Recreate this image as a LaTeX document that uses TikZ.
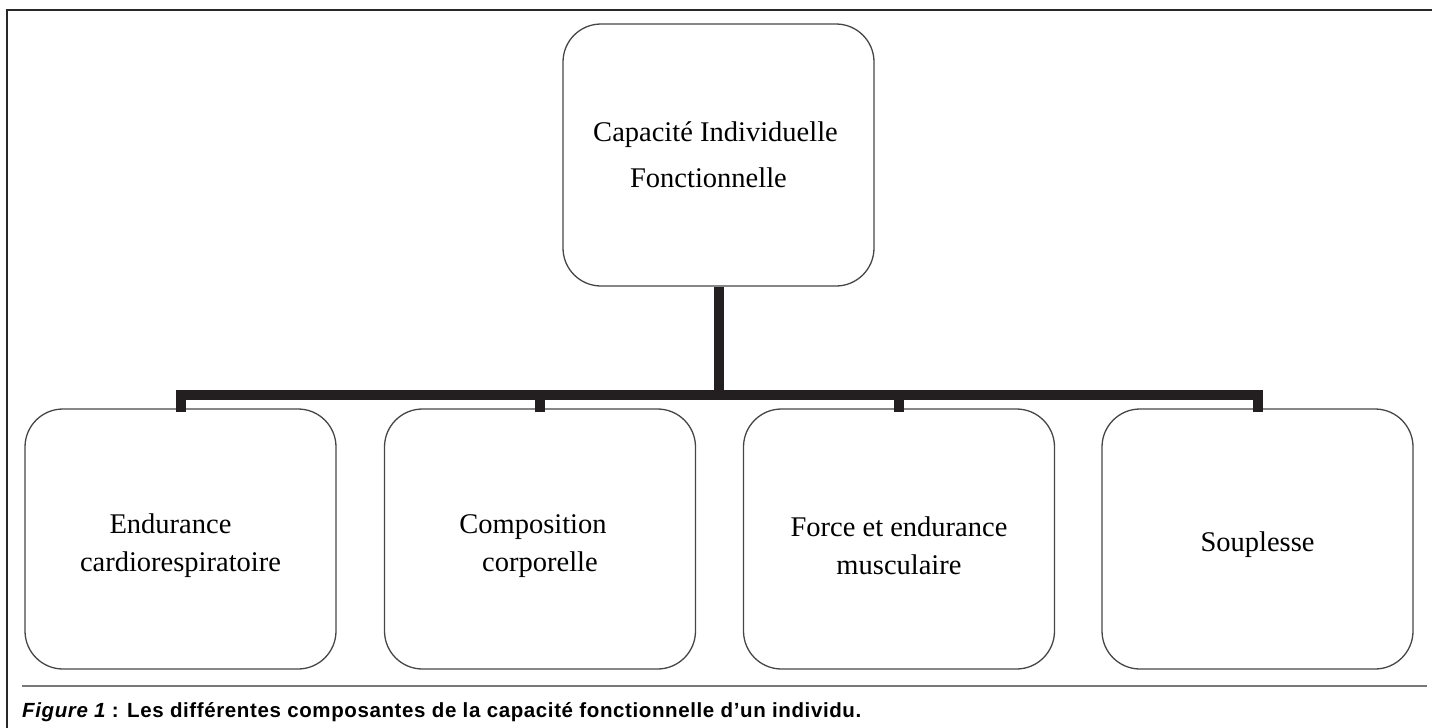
\documentclass[tikz,border=0pt]{standalone}
\usepackage{fontspec}
\setmainfont{Liberation Serif}
\newfontfamily\capfont[LetterSpace=3]{Liberation Sans}
\definecolor{framecol}{RGB}{40,40,40}
\definecolor{boxcol}{RGB}{70,70,70}
\definecolor{conncol}{RGB}{35,31,32}
\definecolor{sepcol}{RGB}{120,120,120}
\tikzset{
  box/.style={draw=boxcol, line width=1.3pt, rounded corners=38pt, rectangle,
    minimum width=311pt, minimum height=260pt, inner sep=0pt, align=center,
    font=\fontsize{28.5}{38}\selectfont},
  lowbox/.style={box, text height=71.5pt},
  lowboxone/.style={box, text height=31pt},
  conn/.style={draw=conncol, line width=10pt, line join=miter},
}
\begin{document}
\begin{tikzpicture}[x=1pt,y=-1pt]
\useasboundingbox (0,0) rectangle (1432,728);
% frame
\draw[framecol, line width=2.5pt] (7,728) -- (7,10) -- (1432,10);
% boxes
\node[box, minimum height=262pt, font=\fontsize{28.5}{46}\selectfont] (t) at (718.5,155)
  {\hspace*{-6pt}Capacité Individuelle\\ \hspace*{-20pt}Fonctionnelle};
\node[lowbox] (b1) at (180.5,539) {Endurance\hspace*{20pt}\\cardiorespiratoire};
\node[lowbox] (b2) at (540,539) {Composition\hspace*{14pt}\\corporelle};
\node[lowbox] (b3) at (899,539) {Force et endurance\\musculaire};
\node[lowboxone] (b4) at (1257.5,539) {Souplesse};
% connectors
\coordinate (bus) at (718.5,394.5);
\draw[conn] ([yshift=-4pt]b1.north) |- (bus) -| ([yshift=-4pt]b4.north);
\draw[conn] ([yshift=-4pt]b2.north) -- (b2.north |- bus);
\draw[conn] ([yshift=-4pt]b3.north) -- (b3.north |- bus);
\draw[conn] (t.south) -- (bus);
% separator
\coordinate (sepL) at (22,686);
\coordinate (sepR) at (1427,686);
\draw[sepcol, line width=1.2pt] (sepL) -- (sepR);
% caption
\node[anchor=base west, inner sep=0pt] (cap) at (22,717)
  {\capfont\fontsize{20.5}{23}\selectfont\bfseries\itshape Figure 1\upshape{} : Les différentes composantes de la capacité fonctionnelle d’un individu.};
\end{tikzpicture}
\end{document}
